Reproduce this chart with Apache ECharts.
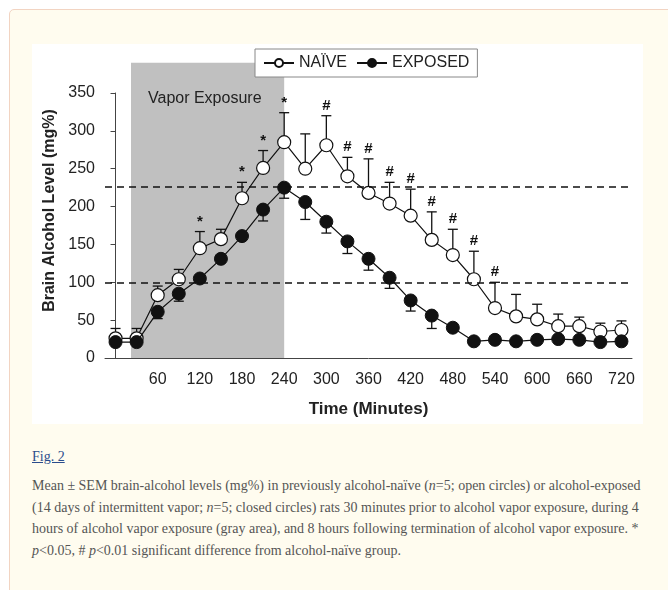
<!DOCTYPE html>
<html>
<head>
<meta charset="utf-8">
<script src="https://cdn.jsdelivr.net/npm/echarts@6/dist/echarts.min.js"></script>
<style>
  body { margin: 0; background: #fff; width: 668px; height: 590px; overflow: hidden; position: relative; }
  .panel { position: absolute; left: 9px; top: 9px; width: 700px; height: 620px; border: 1px solid #f2d4c2; border-radius: 5px; background: #fffcef; }
  #chart { position: absolute; left: 32px; top: 44px; width: 611px; height: 380px; background: #fff; }
  .fig { position: absolute; left: 32px; top: 449px; font: 14px "Liberation Serif", serif; color: #2b4c8c; text-decoration: underline; }
  .caption { position: absolute; left: 32px; top: 475px; font: 14px/21.7px "Liberation Serif", serif; color: #555; white-space: nowrap; }
</style>
</head>
<body>
<div class="panel"></div>
<div id="chart"></div>
<div class="fig">Fig. 2</div>
<div class="caption">
Mean ± SEM brain-alcohol levels (mg%) in previously alcohol-naïve (<i>n</i>=5; open circles) or alcohol-exposed<br>
(14 days of intermittent vapor; <i>n</i>=5; closed circles) rats 30 minutes prior to alcohol vapor exposure, during 4<br>
hours of alcohol vapor exposure (gray area), and 8 hours following termination of alcohol vapor exposure. *<br>
<i>p</i>&lt;0.05, # <i>p</i>&lt;0.01 significant difference from alcohol-naïve group.
</div>
<script>
// time points (minutes) and brain alcohol values (mg%)
var times = ['0','30','60','90','120','150','180','210','240','270','300','330','360','390','420','450','480','510','540','570','600','630','660','690','720'];
var naiveMean = [26, 26, 83, 104, 145, 157, 211, 251, 285, 250, 281, 240, 218, 204, 188, 156, 136, 104, 66, 55, 51, 42, 42, 35, 37];
var naiveSem = [13, 13, 12, 13, 22, 13, 21, 23, 39, 46, 39, 25, 45, 28, 35, 37, 34, 37, 34, 29, 20, 16, 12, 11, 12];
var exposedMean = [21, 21, 61, 85, 105, 131, 161, 196, 225, 206, 180, 154, 131, 106, 76, 56, 40, 22, 24, 22, 24, 25, 24, 21, 22];
var exposedSem = [3, 3, 9, 10, 4, 4, 5, 15, 14, 23, 15, 16, 15, 14, 14, 17, 3, 2, 2, 2, 2, 2, 2, 2, 2];
var sigMarks = ['', '', '', '', '*', '', '*', '*', '*', '', '#', '#', '#', '#', '#', '#', '#', '#', '#', '', '', '', '', '', ''];
var refLevels = [226, 100];
var vaporRange = [22, 240];
var vaporTop = 390;

var font = '"Liberation Sans", Arial, sans-serif';
var myChart = echarts.init(document.getElementById('chart'));

var naiveBars = naiveMean.map(function (v, i) { return [i, v, naiveSem[i]]; });
var exposedBars = exposedMean.map(function (v, i) { return [i, v, -exposedSem[i]]; });

function renderErr(params, api) {
  var i = api.value(0), m = api.value(1), e = api.value(2);
  var p0 = api.coord([i, m]);
  var p1 = api.coord([i, m + e]);
  var style = { stroke: '#111', lineWidth: 1.3 };
  var children = [
    { type: 'line', shape: { x1: p0[0], y1: p0[1], x2: p1[0], y2: p1[1] }, style: style },
    { type: 'line', shape: { x1: p1[0] - 5, y1: p1[1], x2: p1[0] + 5, y2: p1[1] }, style: style }
  ];
  var mark = params.seriesName === 'errN' ? sigMarks[i] : '';
  if (mark) {
    children.push({
      type: 'text',
      style: { text: mark, x: p1[0], y: p1[1] - 10, align: 'center', verticalAlign: 'middle',
        font: 'bold 15px ' + font, fill: '#111' }
    });
  }
  return { type: 'group', children: children };
}

var option = {
  animation: false,
  textStyle: { fontFamily: font },
  legend: {
    data: ['NAÏVE', 'EXPOSED'],
    left: 223,
    top: 5,
    padding: [6, 8],
    itemGap: 9,
    itemWidth: 30,
    itemHeight: 10,
    borderColor: '#888',
    borderWidth: 1,
    backgroundColor: '#fff',
    textStyle: { fontSize: 16, color: '#222', fontFamily: font }
  },
  grid: { left: 73, right: 11, top: 49, bottom: 66 },
  xAxis: [{
    type: 'category',
    data: times,
    name: 'Time (Minutes)',
    nameLocation: 'middle',
    nameGap: 43,
    nameTextStyle: { fontSize: 17, fontWeight: 'bold', color: '#222' },
    axisLine: { lineStyle: { color: '#444', width: 1 } },
    axisTick: { interval: 0, length: 5, lineStyle: { color: '#444' } },
    axisLabel: {
      interval: function (i) { return i > 0 && i % 2 === 0; },
      fontSize: 16, color: '#222', margin: 14
    }
  }, {
    type: 'value',
    min: -15,
    max: 735,
    show: false
  }],
  yAxis: {
    type: 'value',
    min: 0,
    max: 350,
    interval: 50,
    name: 'Brain Alcohol Level (mg%)',
    nameLocation: 'middle',
    nameGap: 44,
    nameTextStyle: { fontSize: 16, fontWeight: 'bold', color: '#222', padding: [0, 0, 0, 30] },
    axisLine: { show: true, lineStyle: { color: '#444', width: 1 } },
    axisTick: { show: true, length: 5, lineStyle: { color: '#444' } },
    axisLabel: { fontSize: 16, color: '#222', margin: 10 },
    splitLine: { show: false }
  },
  series: [
    {
      // gray vapor exposure period
      type: 'custom',
      xAxisIndex: 1,
      z: 0,
      silent: true,
      data: [[vaporRange[0], vaporRange[1]]],
      renderItem: function (params, api) {
        var a = api.coord([api.value(0), 0]);
        var b = api.coord([api.value(1), vaporTop]);
        var t = api.coord([api.value(0), 350]);
        return {
          type: 'group',
          children: [
            { type: 'rect', shape: { x: a[0], y: b[1], width: b[0] - a[0], height: a[1] - b[1] },
              style: { fill: '#c0c0c0' } },
            { type: 'text', style: { text: 'Vapor Exposure', x: a[0] + 17, y: t[1] + 6,
              verticalAlign: 'middle', font: '16px ' + font, fill: '#222' } }
          ]
        };
      }
    },
    {
      name: 'errN',
      type: 'custom',
      z: 1,
      data: naiveBars,
      renderItem: renderErr
    },
    {
      name: 'errE',
      type: 'custom',
      z: 1,
      data: exposedBars,
      renderItem: renderErr
    },
    {
      name: 'NAÏVE',
      type: 'line',
      z: 3,
      data: naiveMean,
      symbol: 'circle',
      symbolSize: 13,
      lineStyle: { color: '#111', width: 1.2 },
      itemStyle: { color: '#fff', borderColor: '#111', borderWidth: 1.2 },
      markLine: {
        silent: true,
        symbol: 'none',
        label: { show: false },
        lineStyle: { color: '#111', type: [7, 5], width: 1.6 },
        data: refLevels.map(function (v) { return { yAxis: v }; })
      }
    },
    {
      name: 'EXPOSED',
      type: 'line',
      z: 4,
      data: exposedMean,
      symbol: 'circle',
      symbolSize: 13,
      lineStyle: { color: '#111', width: 1.2 },
      itemStyle: { color: '#111', borderColor: '#111', borderWidth: 1 }
    }
  ]
};

myChart.setOption(option);
</script>
</body>
</html>
